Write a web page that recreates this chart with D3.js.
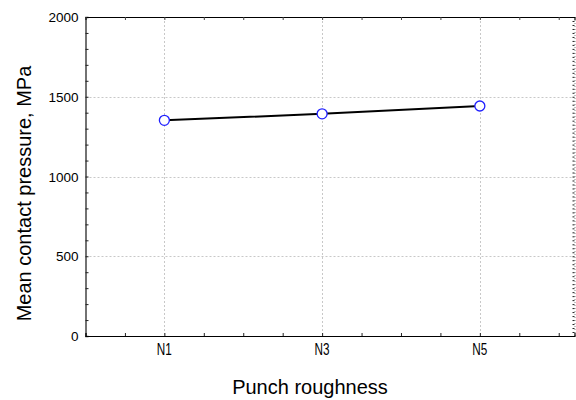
<!DOCTYPE html>
<html>
<head>
<meta charset="utf-8">
<script src="https://cdn.jsdelivr.net/npm/d3@7"></script>
<style>
  body { margin: 0; background: #fff; }
  svg text { font-family: Arial, "Liberation Sans", sans-serif; fill: #000; }
</style>
</head>
<body>
<svg id="chart"></svg>
<script>
// data
const categories = ["N1", "N3", "N5"];
const catPos = [1, 3, 5];
const pressure = [1352, 1393, 1442];
const yTicks = [0, 500, 1000, 1500, 2000];

var wtot = 576, htot = 400;
var margin = { top: 17, right: 1.5, bottom: 64, left: 85.5 };

const svg = d3.select("#chart")
    .attr("width", wtot)
    .attr("height", htot);

const xScale = d3.scaleLinear([0, 6.2], [margin.left, wtot - margin.right]);
const yScale = d3.scaleLinear([0, 2000], [htot - margin.bottom, margin.top]);

// grid
const grid = svg.append("g")
    .attr("stroke", "#c8c8c8")
    .attr("stroke-dasharray", "2,2")
    .attr("stroke-width", 1);
grid.selectAll("line.v")
    .data(catPos)
    .join("line")
    .attr("x1", d => Math.round(xScale(d)) + 0.5)
    .attr("x2", d => Math.round(xScale(d)) + 0.5)
    .attr("y1", yScale(2000))
    .attr("y2", yScale(0));
grid.selectAll("line.h")
    .data([500, 1000, 1500])
    .join("line")
    .attr("x1", xScale(0))
    .attr("x2", xScale(6.2))
    .attr("y1", d => Math.round(yScale(d)) + 0.5)
    .attr("y2", d => Math.round(yScale(d)) + 0.5);

// left axis
svg.append("g")
    .attr("transform", `translate(${margin.left},0)`)
    .call(d3.axisRight(yScale).tickValues(d3.range(0, 2001, 100)).tickSize(3).tickFormat(""))
    .call(g => g.select(".domain").attr("stroke", "#444").attr("stroke-width", 1.5))
    .call(g => g.selectAll(".tick line").attr("stroke", "#222"));

svg.append("g")
    .selectAll("text")
    .data(yTicks)
    .join("text")
    .attr("x", margin.left - 7)
    .attr("y", d => yScale(d) + 5)
    .attr("text-anchor", "end")
    .style("font-size", "13.5px")
    .text(d => d);

// right axis (cut at edge)
svg.append("g")
    .attr("transform", `translate(${wtot - margin.right},0)`)
    .call(d3.axisLeft(yScale).tickValues(d3.range(0, 2001, 25)).tickSize(2).tickFormat(""))
    .call(g => g.select(".domain").attr("stroke", "#888").attr("stroke-dasharray", "1,2"))
    .call(g => g.selectAll(".tick line").attr("stroke", "#222"));

// bottom axis
svg.append("g")
    .attr("transform", `translate(0,${htot - margin.bottom})`)
    .call(d3.axisTop(xScale).tickValues(d3.range(0, 6.2, 0.5)).tickSize(3).tickFormat(""))
    .call(g => g.select(".domain").attr("stroke", "#000").attr("stroke-width", 1.2))
    .call(g => g.selectAll(".tick line").attr("stroke", "#222"));

svg.append("g")
    .selectAll("text")
    .data(categories)
    .join("text")
    .attr("x", (d, i) => xScale(catPos[i]))
    .attr("y", htot - margin.bottom + 19)
    .attr("text-anchor", "middle")
    .attr("textLength", 15)
    .attr("lengthAdjust", "spacingAndGlyphs")
    .style("font-size", "16px")
    .text(d => d);

// top axis
svg.append("g")
    .attr("transform", `translate(0,${margin.top})`)
    .call(d3.axisBottom(xScale).tickValues(d3.range(0, 6.2, 0.5)).tickSize(3).tickFormat(""))
    .call(g => g.select(".domain").attr("stroke", "#000").attr("stroke-width", 1.2))
    .call(g => g.selectAll(".tick line").attr("stroke", "#444"));

// line
const line = d3.line()
    .x((d, i) => xScale(catPos[i]))
    .y(d => yScale(d));

svg.append("path")
    .datum(pressure)
    .attr("fill", "none")
    .attr("stroke", "#000")
    .attr("stroke-width", 2)
    .attr("d", line);

svg.append("g")
    .selectAll("circle")
    .data(pressure)
    .join("circle")
    .attr("cx", (d, i) => xScale(catPos[i]))
    .attr("cy", d => yScale(d))
    .attr("r", 5)
    .attr("fill", "#fff")
    .attr("stroke", "#2020ff")
    .attr("stroke-width", 1.3);

// axis titles
svg.append("text")
    .attr("transform", `translate(31,${(margin.top + htot - margin.bottom) / 2 + 17}) rotate(-90)`)
    .attr("text-anchor", "middle")
    .style("font-size", "20px")
    .text("Mean contact pressure, MPa");

svg.append("text")
    .attr("x", 310)
    .attr("y", 394)
    .attr("text-anchor", "middle")
    .style("font-size", "20px")
    .text("Punch roughness");
</script>
</body>
</html>
